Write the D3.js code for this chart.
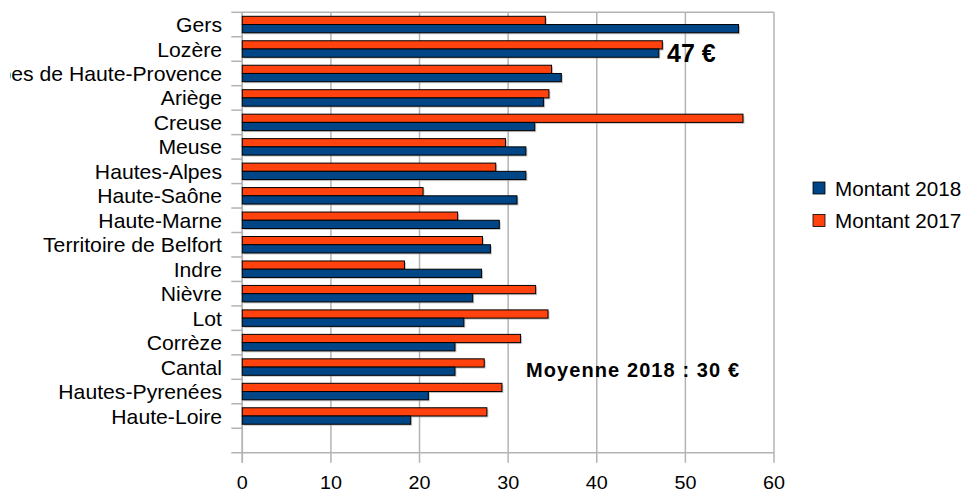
<!DOCTYPE html>
<html>
<head>
<meta charset="utf-8">
<script src="https://cdn.jsdelivr.net/npm/d3@7"></script>
<style>
  body { margin: 0; background: #fff; }
  text { font-family: "Liberation Sans", Arial, sans-serif; fill: #000; }
</style>
</head>
<body>
<script>
// categories, top to bottom
const categories = ["Gers", "Lozère", "Alpes de Haute-Provence", "Ariège", "Creuse", "Meuse",
  "Hautes-Alpes", "Haute-Saône", "Haute-Marne", "Territoire de Belfort", "Indre", "Nièvre",
  "Lot", "Corrèze", "Cantal", "Hautes-Pyrenées", "Haute-Loire"];
const montant2018 = [56, 47, 36, 34, 33, 32, 32, 31, 29, 28, 27, 26, 25, 24, 24, 21, 19];
const montant2017 = [34.2, 47.4, 34.9, 34.6, 56.5, 29.7, 28.6, 20.4, 24.3, 27.1, 18.3, 33.1,
  34.5, 31.4, 27.3, 29.3, 27.6];
const xTicks = [0, 10, 20, 30, 40, 50, 60];
const series = [
  { key: "Montant 2017", values: montant2017, color: "#ff420e" },
  { key: "Montant 2018", values: montant2018, color: "#004586" }
];
const legendOrder = ["Montant 2018", "Montant 2017"];

const W = 965, H = 492;
const plotL = 242.3, plotR = 774, plotT = 12.3, plotB = 452.7;

const svg = d3.select("body").append("svg")
  .attr("width", W).attr("height", H);

const x = d3.scaleLinear().domain([0, 60]).range([plotL, plotR]);
// one empty slot at the bottom, like the original
const y = d3.scaleBand().domain([...categories, ""]).range([plotT, plotB]);
const inner = d3.scaleBand().domain(series.map(s => s.key))
  .range([4, y.bandwidth() - 4]);

const grid = "#b3b3b3";

// vertical grid
svg.append("g").selectAll("line").data(xTicks).enter().append("line")
  .attr("x1", d => x(d)).attr("x2", d => x(d))
  .attr("y1", plotT).attr("y2", plotB + 10)
  .attr("stroke", grid).attr("stroke-width", 1.5);
// top border & bottom line
svg.append("line").attr("x1", plotL).attr("x2", plotR).attr("y1", plotT).attr("y2", plotT)
  .attr("stroke", grid).attr("stroke-width", 1.5);
svg.append("line").attr("x1", plotL - 11).attr("x2", plotR).attr("y1", plotB).attr("y2", plotB)
  .attr("stroke", grid).attr("stroke-width", 1.5);
// left axis + ticks at band edges
svg.append("line").attr("x1", plotL).attr("x2", plotL).attr("y1", plotT).attr("y2", plotB + 10)
  .attr("stroke", grid).attr("stroke-width", 1.5);
svg.append("g").selectAll("line").data(d3.range(categories.length + 1)).enter().append("line")
  .attr("x1", plotL - 11).attr("x2", plotL)
  .attr("y1", i => plotT + i * y.bandwidth()).attr("y2", i => plotT + i * y.bandwidth())
  .attr("stroke", grid).attr("stroke-width", 1.5);

// x tick labels
const xAxis = svg.append("g").attr("transform", `translate(0,${plotB})`)
  .call(d3.axisBottom(x).tickValues(xTicks).tickSize(0).tickPadding(0));
xAxis.select(".domain").remove();
xAxis.selectAll(".tick").attr("transform", d => `translate(${x(d)},0) scale(1.04,1)`);
xAxis.selectAll("text")
  .attr("y", 36).attr("dy", null)
  .style("font-size", "19px")
  .style("font-family", "Liberation Sans, Arial, sans-serif")
  .attr("fill", "#000");

// bars
const rows = svg.append("g").selectAll("g").data(categories).enter().append("g")
  .attr("transform", d => `translate(0,${y(d)})`);
series.forEach(s => {
  rows.append("rect")
    .attr("x", plotL + 1.5)
    .attr("y", inner(s.key) + 1.5)
    .attr("width", (d, i) => x(s.values[i]) - plotL)
    .attr("height", inner.bandwidth())
    .attr("fill", "#999").attr("opacity", 0.55);
  rows.append("rect")
    .attr("x", plotL)
    .attr("y", inner(s.key))
    .attr("width", (d, i) => x(s.values[i]) - plotL)
    .attr("height", inner.bandwidth())
    .attr("fill", s.color)
    .attr("stroke", "#000").attr("stroke-width", 1);
});

// category labels (clipped on the left like the source)
svg.append("clipPath").attr("id", "lblclip").append("rect")
  .attr("x", 10).attr("y", 0).attr("width", 240).attr("height", H);
svg.append("g").attr("clip-path", "url(#lblclip)")
  .selectAll("text").data(categories).enter().append("text")
  .attr("transform", d => `translate(222,${y(d) + y.bandwidth() / 2 + 7.5}) scale(1.06,1)`)
  .attr("text-anchor", "end")
  .style("font-size", "20px")
  .text(d => d);

// legend
const legend = svg.append("g").selectAll("g").data(legendOrder).enter().append("g")
  .attr("transform", (d, i) => `translate(813,${182 + i * 32.5})`);
legend.append("rect").attr("width", 12).attr("height", 12)
  .attr("fill", d => series.find(s => s.key === d).color)
  .attr("stroke", "#000").attr("stroke-width", 0.8);
legend.append("text").attr("transform", "translate(22,13.5) scale(1.06,1)")
  .style("font-size", "19.5px").text(d => d);

// annotations
svg.append("text").attr("x", 667).attr("y", 62)
  .style("font-size", "25px").style("font-weight", "bold").text("47 €");
svg.append("text").attr("x", 526).attr("y", 376.5)
  .style("font-size", "20px").style("font-weight", "bold")
  .attr("textLength", 213).attr("lengthAdjust", "spacing")
  .text("Moyenne 2018 : 30 €");
</script>
</body>
</html>
